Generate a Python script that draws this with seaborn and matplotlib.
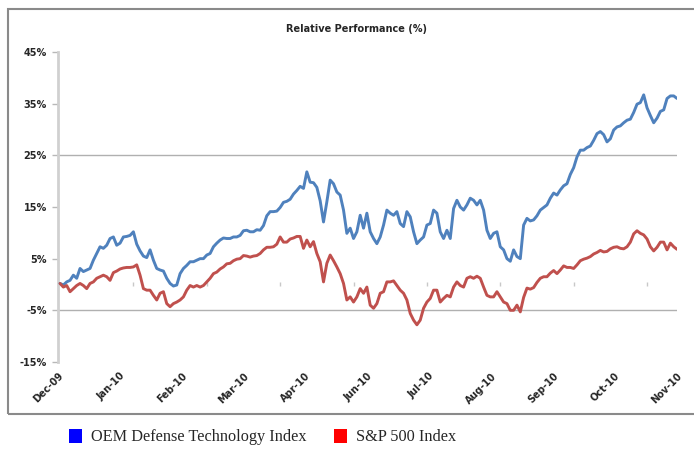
import numpy as np
import pandas as pd
import seaborn as sns
import matplotlib.pyplot as plt
from matplotlib.patches import Patch, Rectangle

# values, one point every ~3.3 px (~1 trading day)
oem = [
    0.2, -0.1, 0.5, 0.8, 1.8, 1.2, 3.1, 2.5, 2.8, 3.1, 4.7, 6.0, 7.3, 7.0, 7.6, 8.9,
    9.2, 7.6, 8.0, 9.2, 9.3, 9.5, 10.2, 7.8, 6.5, 5.5, 5.2, 6.7, 4.7, 3.1, 2.8, 2.6,
    1.2, 0.2, -0.3, -0.1, 2.1, 3.1, 3.7, 4.4, 4.4, 4.7, 5.0, 5.0, 5.7, 6.0, 7.3,
    8.0, 8.6, 9.0, 8.9, 8.9, 9.2, 9.2, 9.5, 10.4, 10.5, 10.2, 10.2, 10.6, 10.5, 11.4,
    13.3, 14.1, 14.1, 14.2, 14.9, 15.9, 16.1, 16.5, 17.5, 18.2, 19.0, 18.6, 21.8, 19.8,
    19.7, 18.8, 16.2, 12.1, 16.0, 20.2, 19.5, 17.9, 17.3, 14.4, 9.9, 10.9, 8.9, 10.2,
    13.4, 10.9, 13.8,
    10.2, 8.9, 7.9, 9.2, 11.5, 14.4, 13.8, 13.4, 14.1, 11.8, 11.2, 14.1, 13.1, 10.2,
    7.9, 8.6, 9.2, 11.5, 11.8, 14.4, 13.8, 10.2, 8.9, 10.5, 8.9, 14.7, 16.3, 15.0,
    14.4, 15.4, 16.7, 16.3, 15.4, 16.3, 14.4, 10.5, 8.9, 9.9, 10.2, 7.3, 6.7, 5.0,
    4.5, 6.7, 5.4, 5.0, 11.5,
    12.8, 12.3, 12.5, 13.3, 14.4, 14.9, 15.4, 16.7, 17.7, 17.3, 18.3, 19.1, 19.5, 21.3,
    22.6, 24.7, 26.0, 26.0, 26.5, 26.8, 27.9, 29.2, 29.6, 29.0, 27.6, 28.2, 29.9, 30.5,
    30.7, 31.3, 31.8, 32.0, 33.3, 34.9, 35.2, 36.7, 34.2, 32.7, 31.3, 32.2, 33.5, 33.8,
    36.0, 36.5, 36.5, 36.0,
]
sp500 = [
    0.2, -0.5, -0.2, -1.4, -0.8, -0.2, 0.2, -0.2, -0.8, 0.2, 0.5, 1.2, 1.5, 1.8, 1.5, 0.8,
    2.3, 2.6, 3.0, 3.2, 3.3, 3.3, 3.4, 3.8, 1.8, -0.8, -1.1, -1.1, -2.1, -3.0, -1.7,
    -1.4, -3.7, -4.3, -3.7, -3.4, -3.0, -2.4, -1.1, -0.2, -0.5, -0.2, -0.5, -0.2, 0.5,
    1.2, 2.1,
    2.4, 3.0, 3.4, 4.0, 4.1, 4.6, 4.9, 5.0, 5.6, 5.5, 5.3, 5.5, 5.6, 6.0, 6.7, 7.2,
    7.2, 7.3, 7.8, 9.2, 8.2, 8.2, 8.8, 9.0, 9.3, 9.3, 7.0, 8.6, 7.3, 8.3, 6.0, 4.4,
    0.5, 4.1, 5.7, 4.6, 3.4, 2.1, 0.2, -3.0, -2.4, -3.4, -2.4, -0.8, -1.7, -0.5,
    -4.0, -4.6, -3.7, -1.7, -1.4, 0.5, 0.5, 0.7, -0.2, -1.1, -1.7, -3.0, -5.6, -6.9,
    -7.8, -6.9, -4.6, -3.4, -2.7, -1.1, -1.1, -3.4, -2.7, -2.1, -2.4, -0.5, 0.5, -0.2,
    -0.5, 1.2, 1.5, 1.2, 1.6, 1.2, -0.5, -2.1, -2.4, -2.4, -1.4, -2.4, -3.4, -3.7,
    -5.0, -5.0, -4.0, -5.3, -2.5,
    -0.7, -0.9, -0.6, 0.4, 1.2, 1.5, 1.5, 2.2, 2.7, 2.1, 2.8, 3.6, 3.3, 3.3, 3.1, 3.8,
    4.6, 4.9, 5.1, 5.4, 5.9, 6.2, 6.6, 6.3, 6.4, 6.9, 7.2, 7.3, 7.0, 6.9, 7.3, 8.2,
    9.8, 10.4, 9.9, 9.6, 8.8, 7.3, 6.5, 7.2, 8.2, 8.2, 6.7, 8.0, 7.3, 6.8,
]
month_labels = ["Dec-09", "Jan-10", "Feb-10", "Mar-10", "Apr-10", "Jun-10",
                "Jul-10", "Aug-10", "Sep-10", "Oct-10", "Nov-10"]
y_ticks = [-15, -5, 5, 15, 25, 35, 45]
grid_levels = [25, -5]

blue = "#4F81BD"
red = "#C0504D"

df = pd.DataFrame({"day": np.arange(len(oem)), "oem": oem, "sp500": sp500})

sns.set_style("white")
fig = plt.figure(figsize=(6.94, 4.49), dpi=100)
ax = fig.add_axes([0.0836, 0.1938, 0.8915, 0.6904])

for lvl in grid_levels:
    ax.axhline(lvl, color="#b0b0b0", lw=1.0, zorder=1)

sns.lineplot(data=df, x="day", y="oem", color=blue, lw=2.1, ax=ax, zorder=3)
sns.lineplot(data=df, x="day", y="sp500", color=red, lw=2.1, ax=ax, zorder=3)

# small category tick marks along the zero line
zero_marks = np.arange(22, len(oem), 22)
ax.plot(zero_marks, np.zeros(len(zero_marks)),
        ls="none", marker="|", ms=3, color="#c8c8c8", zorder=2)

ax.set_xlim(-0.6, 184.9)
ax.set_ylim(-15, 45)
ax.set_yticks(y_ticks)
ax.set_yticklabels([f"{t}%" for t in y_ticks], fontsize=7, fontweight="bold")
ax.set_xticks(np.linspace(-0.6, 184.9, len(month_labels)))
ax.set_xticklabels(month_labels, rotation=45, ha="right", rotation_mode="anchor",
                   fontsize=7, fontweight="bold")
ax.set_xlabel("")
ax.set_ylabel("")
ax.tick_params(axis="y", left=True, length=4, width=1, color="#b8b8b8", pad=4)
ax.tick_params(axis="x", bottom=False, pad=3)
for s in ["top", "right", "bottom"]:
    ax.spines[s].set_visible(False)
ax.spines["left"].set_color("#d0d0d0")
ax.spines["left"].set_linewidth(2)

fig.text(0.513, 0.935, "Relative Performance (%)", ha="center", va="center",
         fontsize=7, fontweight="bold")

# chart border
fig.patches.append(Rectangle((0.012, 0.078), 1.0, 0.902, transform=fig.transFigure,
                             fill=False, edgecolor="#8a8a8a", lw=1.5))

handles = [Patch(facecolor="#0000FF", edgecolor="none"),
           Patch(facecolor="#FF0000", edgecolor="none")]
fig.legend(handles, ["OEM Defense Technology Index", "S&P 500 Index"],
           loc="center", bbox_to_anchor=(0.378, 0.027), ncol=2, frameon=False,
           prop={"family": "Liberation Serif", "size": 11.7},
           handlelength=0.8, handleheight=0.95, handletextpad=0.55, columnspacing=1.7)

fig.savefig("out.png", dpi=100)
